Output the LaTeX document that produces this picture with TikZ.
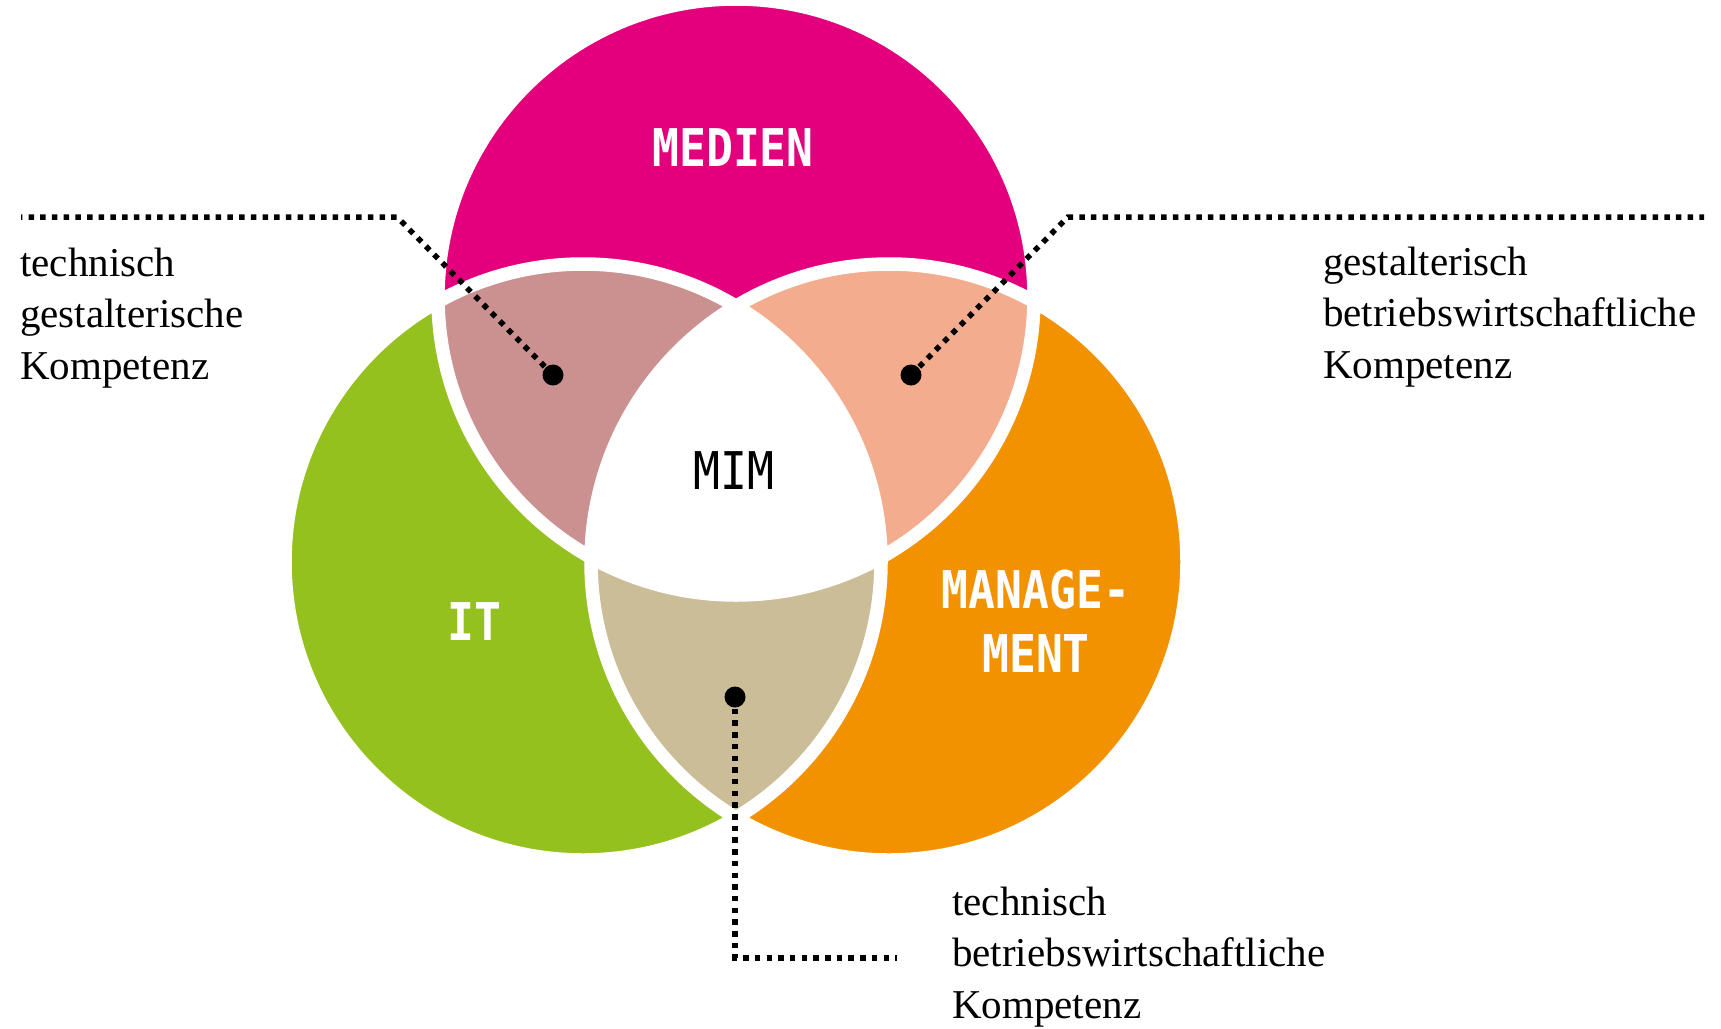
\documentclass[tikz,border=0pt]{standalone}
\usepackage{fontspec}
\setmainfont{Liberation Serif}
\newfontfamily\labelfont[FakeStretch=0.86]{DejaVu Sans Mono}
\definecolor{medien}{HTML}{E4007C}
\definecolor{itgreen}{HTML}{95C11F}
\definecolor{mgmt}{HTML}{F39200}
\definecolor{rose}{HTML}{CA9190}
\definecolor{peach}{HTML}{F4AC8E}
\definecolor{tanc}{HTML}{CBBD97}
\begin{document}
\begin{tikzpicture}[x=1pt,y=-1pt,
  ring/.style={draw=white,line width=13.5pt},
  catlabel/.style={text=white,font=\labelfont\bfseries\fontsize{52}{64}\selectfont,inner sep=0pt,anchor=base,align=center},
  centerlabel/.style={text=black,font=\labelfont\fontsize{52}{64}\selectfont,inner sep=0pt,anchor=base},
  desc/.style={font=\fontsize{41}{51.5}\selectfont,inner sep=0pt,anchor=base west,align=left},
  pin/.style={circle,fill=black,inner sep=0pt,minimum size=21pt},
  leader/.style={draw=black,line width=5.5pt,dash pattern=on 5.5pt off 6.2pt}]
\useasboundingbox (0,0) rectangle (1721,1028);
\def\R{298pt}
\coordinate (cT) at (736,297);
\coordinate (cL) at (583,562);
\coordinate (cR) at (889,562);
% base circles
\fill[medien] (cT) circle[radius=\R];
\fill[itgreen] (cL) circle[radius=\R];
\fill[mgmt] (cR) circle[radius=\R];
% pairwise overlaps
\begin{scope}
  \clip (cT) circle[radius=\R];
  \fill[rose] (cL) circle[radius=\R];
  \fill[peach] (cR) circle[radius=\R];
\end{scope}
\begin{scope}
  \clip (cL) circle[radius=\R];
  \fill[tanc] (cR) circle[radius=\R];
\end{scope}
\begin{scope}
  \clip (cT) circle[radius=\R];
  \clip (cL) circle[radius=\R];
  \fill[white] (cR) circle[radius=\R];
\end{scope}
% white rings
\path[ring] (cT) circle[radius=\R] (cL) circle[radius=\R] (cR) circle[radius=\R];
% labels
\node[catlabel] (medien) at (733,166) {MEDIEN};
\node[catlabel] (it) at (474,640) {IT};
\node[catlabel] (management) at (1036,672) {MANAGE-\\MENT};
\node[centerlabel] (mim) at (734,489) {MIM};
% pins
\node[pin] (pinTG) at (553,375) {};
\node[pin] (pinGB) at (911,375) {};
\node[pin] (pinTB) at (735,697) {};
\coordinate (kTG) at (397,217);
\coordinate (eTG) at (21,217);
\coordinate (kGB) at (1068,217);
\coordinate (eGB) at (1704,217);
\coordinate (kTB) at (735,958);
\coordinate (eTB) at (897,958);
\path[leader] (pinTG.center) -- (kTG) -- (eTG);
\path[leader] (pinGB.center) -- (kGB) -- (eGB);
\path[leader] (pinTB.center) -- (kTB) -- (eTB);
% descriptions (base anchor = baseline of last line)
\node[desc] (tTG) at (20,379) {technisch\\gestalterische\\Kompetenz};
\node[desc] (tGB) at (1323,378) {gestalterisch\\betriebswirtschaftliche\\Kompetenz};
\node[desc] (tTB) at (952,1018) {technisch\\betriebswirtschaftliche\\Kompetenz};
\end{tikzpicture}
\end{document}
